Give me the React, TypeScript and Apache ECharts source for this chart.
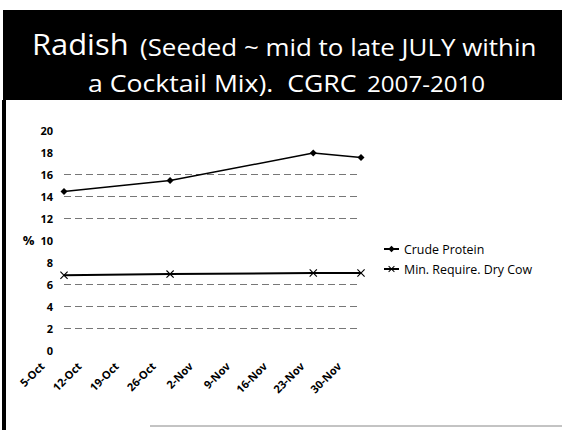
import React, { useEffect, useRef } from "react";
import * as echarts from "echarts";

const tickLabels = ["5-Oct", "12-Oct", "19-Oct", "26-Oct", "2-Nov", "9-Nov", "16-Nov", "23-Nov", "30-Nov"];
const sampleDays = [0, 20, 47, 56];
const crudeProtein = [14.4, 15.4, 17.9, 17.5];
const minRequire = [6.8, 6.9, 7.0, 7.0];
const gridColors = ["transparent", "#777", "#777", "#777", "transparent", "transparent", "#777", "#777", "#777", "transparent", "transparent"];

const FONT = "'Open Sans', Lato, sans-serif";

export default function App() {
  const ref = useRef<HTMLDivElement>(null);
  useEffect(() => {
    if (!ref.current) return;
    const chart = echarts.init(ref.current, undefined, { renderer: "svg" });
    chart.setOption({
      animation: false,
      backgroundColor: "#fff",
      graphic: [
        { type: "rect", shape: { x: 3, y: 10, width: 559, height: 90 }, style: { fill: "#000" } },
        { type: "rect", shape: { x: 2, y: 100, width: 4, height: 330 }, style: { fill: "#000" } },
        { type: "line", shape: { x1: 150, y1: 426, x2: 562, y2: 426 }, style: { stroke: "#888", lineWidth: 1 } },
        { type: "text", x: 32, y: 43.5, scaleX: 1.03, style: { text: "Radish", fontSize: 30, fontFamily: FONT, fill: "#fff", verticalAlign: "middle" } },
        { type: "text", x: 140, y: 46, scaleX: 1.08, style: { text: "(Seeded ~ mid to late JULY within", fontSize: 24, fontFamily: FONT, fill: "#fff", verticalAlign: "middle" } },
        { type: "text", x: 88, y: 82.5, scaleX: 1.11, style: { text: "a Cocktail Mix).  CGRC", fontSize: 24, fontFamily: FONT, fill: "#fff", verticalAlign: "middle" } },
        { type: "text", x: 367, y: 84, scaleX: 1.15, style: { text: "2007-2010", fontSize: 21, fontFamily: FONT, fill: "#fff", verticalAlign: "middle" } },
      ],
      legend: {
        orient: "vertical",
        left: 378,
        top: 238,
        itemGap: 8,
        itemWidth: 15,
        itemHeight: 8,
        textStyle: { fontSize: 12.4, fontFamily: FONT, color: "#000" },
        data: ["Crude Protein", "Min. Require. Dry Cow"],
      },
      grid: { left: 64, right: 201, top: 130, bottom: 80 },
      xAxis: {
        type: "value",
        min: 0,
        max: 56,
        interval: 7,
        axisLine: { show: false },
        axisTick: { show: false },
        splitLine: { show: false },
        axisLabel: {
          rotate: 45,
          margin: -8,
          padding: [0, 31, 0, 0],
          fontSize: 11,
          fontWeight: "bold",
          fontFamily: FONT,
          color: "#000",
          formatter: (v: number) => tickLabels[Math.round(v / 7)] ?? "",
        },
      },
      yAxis: {
        type: "value",
        min: 0,
        max: 20,
        interval: 2,
        name: "%",
        nameLocation: "middle",
        nameRotate: 0,
        nameGap: 29,
        nameTextStyle: { fontSize: 13, fontWeight: "bold", fontFamily: FONT, color: "#000", padding: [16, 0, 0, 0] },
        axisLine: { show: false },
        axisTick: { show: false },
        axisLabel: { fontSize: 11, fontWeight: "bold", fontFamily: FONT, color: "#000", margin: 11 },
        splitLine: { lineStyle: { type: [7, 4], color: gridColors, width: 1 } },
      },
      series: [
        {
          name: "Crude Protein",
          type: "line",
          data: sampleDays.map((d, i) => [d, crudeProtein[i]]),
          symbol: "diamond",
          symbolSize: 7,
          lineStyle: { color: "#000", width: 1.5 },
          itemStyle: { color: "#000" },
        },
        {
          name: "Min. Require. Dry Cow",
          type: "line",
          data: sampleDays.map((d, i) => [d, minRequire[i]]),
          symbol: "path://M0,1L1,0L5,4L9,0L10,1L6,5L10,9L9,10L5,6L1,10L0,9L4,5Z",
          symbolSize: 8,
          lineStyle: { color: "#000", width: 2 },
          itemStyle: { color: "#000" },
        },
      ],
    });
    return () => chart.dispose();
  }, []);
  return <div ref={ref} style={{ width: 562, height: 430, position: "fixed", left: 0, top: 0 }} />;
}
